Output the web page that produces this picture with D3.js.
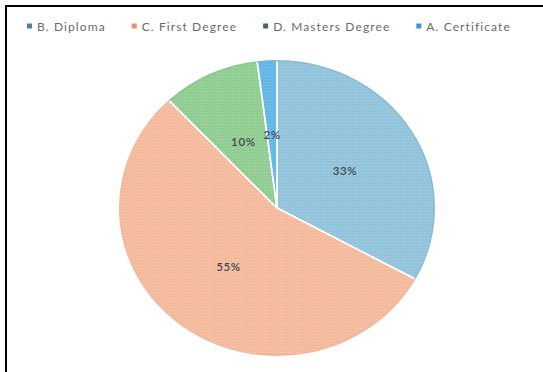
<!DOCTYPE html>
<html>
<head>
<meta charset="utf-8">
<script src="https://cdn.jsdelivr.net/npm/d3@7"></script>
<style>
  html, body { margin: 0; padding: 0; background: #fff; }
  svg { display: block; }
</style>
</head>
<body>
<svg id="chart" width="543" height="372"></svg>
<script>
// Share of respondents by highest qualification (percent)
const categories = ["B. Diploma", "C. First Degree", "D. Masters Degree", "A. Certificate"];
const shares = [33, 55, 10, 2];
const labels = ["33%", "55%", "10%", "2%"];

const fills = ["#8fc2db", "#f4b899", "#8ccb8e", "#5fb4e4"];
const dots = ["#b3d6e8", "#f9d3bf", "#b5dfb5", "#92cdef"];
const edges = ["#6aa6c7", "#eda584", "#6db872", "#3f9fd6"];
const legendMarks = ["#4f7f95", "#e8926c", "#3f6f4a", "#3a94cf"];

const svg = d3.select("#chart");
const W = 543, H = 372;

// frame line along top and left
svg.append("rect")
  .attr("x", 6).attr("y", 6)
  .attr("width", W + 20).attr("height", H + 20)
  .attr("fill", "none").attr("stroke", "#000").attr("stroke-width", 2);

// fine dotted texture for each slice
const defs = svg.append("defs");
fills.forEach((f, i) => {
  const p = defs.append("pattern")
    .attr("id", "tex" + i)
    .attr("patternUnits", "userSpaceOnUse")
    .attr("width", 3).attr("height", 3);
  p.append("rect").attr("width", 3).attr("height", 3).attr("fill", f);
  p.append("rect").attr("x", 0).attr("y", 0).attr("width", 1).attr("height", 1).attr("fill", dots[i]);
  p.append("rect").attr("x", 1.5).attr("y", 1.5).attr("width", 1).attr("height", 1).attr("fill", dots[i]).attr("opacity", 0.6);
});

// pie
const cx = 277, cy = 208, R = 148, sx = 1.068;
const pie = d3.pie().sort(null).value(d => d)(shares);
const arc = d3.arc().innerRadius(0).outerRadius(R);

const g = svg.append("g").attr("transform", `translate(${cx},${cy}) scale(${sx},1)`);
g.selectAll("path.slice")
  .data(pie)
  .join("path")
  .attr("class", "slice")
  .attr("d", arc)
  .attr("fill", (d, i) => `url(#tex${i})`)
  .attr("stroke", "#ffffff")
  .attr("stroke-width", 1.6)
  .attr("stroke-linejoin", "round");

// soft darker rim
const rim = d3.arc().innerRadius(R - 1.2).outerRadius(R);
g.selectAll("path.rim")
  .data(pie)
  .join("path")
  .attr("class", "rim")
  .attr("d", rim)
  .attr("fill", (d, i) => edges[i])
  .attr("opacity", 0.7);

// value labels at the slice centroids
svg.append("g")
  .selectAll("text")
  .data(pie)
  .join("text")
  .attr("x", d => cx + arc.centroid(d)[0] * sx)
  .attr("y", d => cy + arc.centroid(d)[1])
  .attr("text-anchor", "middle")
  .attr("dominant-baseline", "central")
  .attr("font-family", "Lato, 'Open Sans', sans-serif")
  .attr("font-size", 11.5)
  .attr("font-weight", 600)
  .attr("letter-spacing", 0.6)
  .attr("fill", "#3f4a4f")
  .text((d, i) => labels[i]);

// legend across the top
const lg = svg.append("g").attr("transform", "translate(0,26)");
let x = 27;
categories.forEach((c, i) => {
  const item = lg.append("g").attr("transform", `translate(${x},0)`);
  item.append("rect")
    .attr("x", 0).attr("y", -2.5)
    .attr("width", 5).attr("height", 5)
    .attr("fill", legendMarks[i]);
  const t = item.append("text")
    .attr("x", 10).attr("y", 0)
    .attr("dominant-baseline", "central")
    .attr("font-family", "Lato, 'Open Sans', sans-serif")
    .attr("font-size", 12)
    .attr("letter-spacing", 1.1)
    .attr("fill", "#6a6a6a")
    .text(c);
  x += 10 + t.node().getBBox().width + 26;
});
</script>
</body>
</html>
